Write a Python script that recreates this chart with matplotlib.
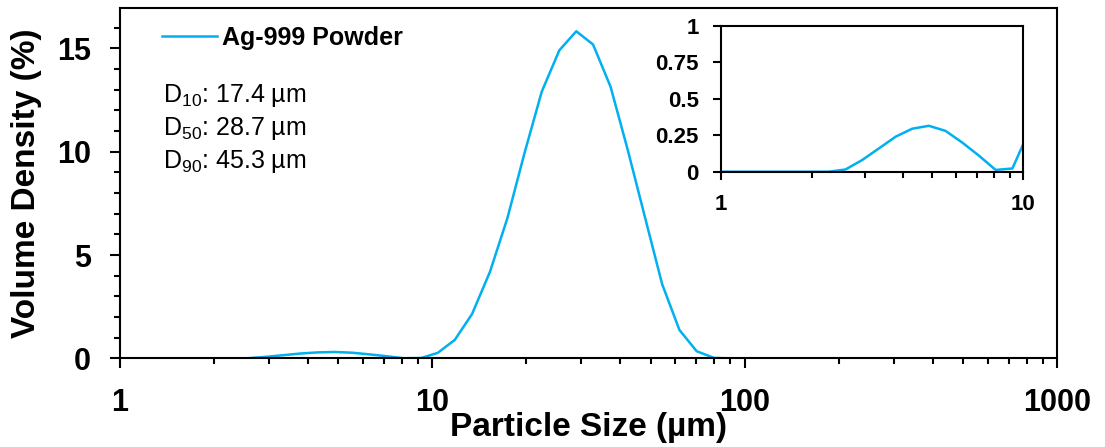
import matplotlib
matplotlib.use("Agg")
import matplotlib.pyplot as plt
from matplotlib.ticker import LogLocator, NullFormatter, MultipleLocator

plt.rcParams['font.family'] = ['Liberation Sans', 'DejaVu Sans']
plt.rcParams['mathtext.fontset'] = 'custom'
plt.rcParams['mathtext.rm'] = 'Liberation Sans'
plt.rcParams['mathtext.it'] = 'Liberation Sans:italic'
plt.rcParams['mathtext.bf'] = 'Liberation Sans:bold'

# Particle size classes (um) and volume density (%)
size_um = [1.00, 1.06, 1.21, 1.37, 1.56, 1.77, 2.00, 2.27, 2.58, 2.93, 3.33,
           3.78, 4.29, 4.87, 5.53, 6.28, 7.13, 8.10, 9.20, 10.4, 11.8, 13.4,
           15.3, 17.4, 19.7, 22.4, 25.5, 28.9, 32.7, 37.2, 42.2, 48.0, 54.4,
           61.8, 70.2, 79.7, 90.5, 103, 117, 133, 151, 172, 195, 221, 251,
           286, 324, 368, 418, 475, 539, 612, 695, 790, 897, 1000]
vol_density = [0, 0, 0, 0, 0, 0, 0, 0, 0.015, 0.08, 0.16,
               0.24, 0.295, 0.315, 0.28, 0.20, 0.11, 0.012, 0.022, 0.27, 0.90, 2.15,
               4.2, 6.8, 9.9, 12.9, 14.9, 15.82, 15.18, 13.14, 10.1, 6.8, 3.6,
               1.38, 0.35, 0.03, 0, 0, 0, 0, 0, 0, 0, 0, 0,
               0, 0, 0, 0, 0, 0, 0, 0, 0, 0, 0]

stats = [r'D$_\mathregular{10}$: 17.4 µm',
         r'D$_\mathregular{50}$: 28.7 µm',
         r'D$_\mathregular{90}$: 45.3 µm']

line_color = '#00B0F0'

fig = plt.figure(figsize=(11.05, 4.47), dpi=100)
ax = fig.add_axes([0.1086, 0.1980, 0.8480, 0.7834])

ax.plot(size_um, vol_density, color=line_color, lw=1.8, label='Ag-999 Powder')
ax.set_xscale('log')
ax.set_xlim(1, 1000)
ax.set_ylim(0, 16.93)

ax.set_xticks([1, 10, 100, 1000])
ax.set_xticklabels(['1', '10', '100', '1000'])
ax.xaxis.set_minor_locator(LogLocator(base=10, subs=range(2, 10)))
ax.xaxis.set_minor_formatter(NullFormatter())
ax.yaxis.set_major_locator(MultipleLocator(5))
ax.yaxis.set_minor_locator(MultipleLocator(1))

for s in ax.spines.values():
    s.set_linewidth(1.5)
ax.tick_params(which='major', direction='out', length=7, width=1.5,
               labelsize=22)
ax.tick_params(which='minor', direction='out', length=4.5, width=1.5)
ax.tick_params(axis='x', which='major', pad=14)
ax.tick_params(axis='y', which='major', pad=14)
for lab in ax.get_xticklabels() + ax.get_yticklabels():
    lab.set_fontweight('bold')

ax.set_xlabel('Particle Size (µm)', fontsize=24, fontweight='bold')
ax.xaxis.set_label_coords(0.5, -0.198)
ax.xaxis.label.set_va('center')
ax.set_ylabel('Volume Density (%)', fontsize=24, fontweight='bold')
ax.yaxis.set_label_coords(-0.1003, 0.5)
ax.yaxis.label.set_va('center')

leg = ax.legend(loc='center left', bbox_to_anchor=(0.0448, 0.916),
                frameon=False, borderpad=0, borderaxespad=0,
                handlelength=2.2, handletextpad=0.2,
                prop={'size': 18, 'weight': 'bold'})

for i, txt in enumerate(stats):
    ax.text(0.0459, 0.7324 - i * 0.0942, txt, transform=ax.transAxes,
            fontsize=18, va='baseline', ha='left')

# inset: zoom on the small fraction between 1 and 10 um
ins = fig.add_axes([0.6525, 0.6159, 0.2736, 0.3260])
ins.plot(size_um, vol_density, color=line_color, lw=1.8)
ins.set_xscale('log')
ins.set_xlim(1, 10)
ins.set_ylim(0, 1)
ins.set_xticks([1, 10])
ins.set_xticklabels(['1', '10'])
ins.xaxis.set_minor_locator(LogLocator(base=10, subs=range(2, 10)))
ins.xaxis.set_minor_formatter(NullFormatter())
ins.set_yticks([0, 0.25, 0.5, 0.75, 1])
ins.set_yticklabels(['0', '0.25', '0.5', '0.75', '1'])
for s in ins.spines.values():
    s.set_linewidth(1.5)
ins.tick_params(which='major', direction='out', length=6, width=1.5,
                labelsize=16, pad=10)
ins.tick_params(which='minor', direction='out', length=4, width=1.5)
for lab in ins.get_xticklabels() + ins.get_yticklabels():
    lab.set_fontweight('bold')

fig.savefig('out.png', dpi=100)
